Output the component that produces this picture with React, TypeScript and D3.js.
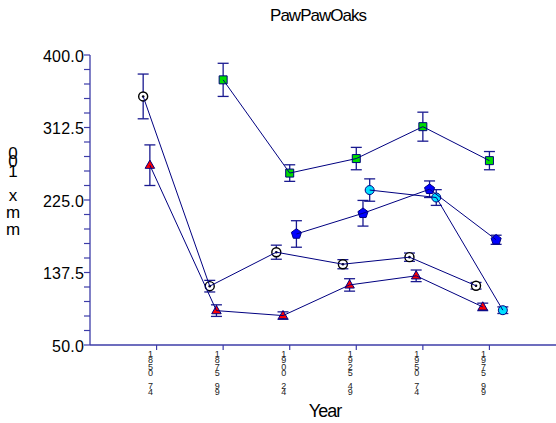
import React from "react";
import * as d3 from "d3";

// ---- data ----
const xLabels = ["1850.74", "1875.99", "1900.24", "1925.49", "1950.74", "1975.99"];
const yTicks = [50, 137.5, 225, 312.5, 400];

const meanA = [350, 121, 162, 147.5, 156, 121.5];
const errA = [27, 7, 8.5, 5.5, 5, 4];
const meanB = [267, 91.5, 85.5, 122.5, 133.5, 96];
const errB = [24.5, 7, 4.5, 7.5, 7, 4.5];
const meanC = [null, 370, 257.5, 275, 313.5, 272.5];
const errC = [null, 20, 10, 13.5, 17.5, 11];
const meanD = [null, null, 184, 209, 238, 177];
const errD = [null, null, 16, 15.5, 10, 5.5];
const meanE = [null, null, null, 237, 228, 92];
const errE = [null, null, null, 13.5, 9.5, 4];

const seriesMeans = [meanA, meanB, meanC, meanD, meanE];
const seriesErrs = [errA, errB, errC, errD, errE];
const markerKinds = ["ring", "triangle", "square", "pentagon", "circle"];
const markerFills = ["#ffffff", "#ff0000", "#00dd00", "#0000ff", "#00e0ff"];

const W = 556;
const H = 423;
const NAVY = "#000080";
const AXIS = "#3c3ca8";
const FONT = "'Liberation Sans', Arial, sans-serif";

function markerPath(kind: string, cx: number, cy: number): string {
  if (kind === "triangle") {
    const s = 9.5;
    const h = (s * Math.sqrt(3)) / 2;
    return `M${cx},${cy - h * 0.62}L${cx + s / 2},${cy + h * 0.38}L${cx - s / 2},${cy + h * 0.38}Z`;
  }
  if (kind === "square") {
    const s = 4;
    return `M${cx - s},${cy - s}H${cx + s}V${cy + s}H${cx - s}Z`;
  }
  if (kind === "pentagon") {
    const r = 5.3;
    const pts = d3.range(5).map((i) => {
      const a = -Math.PI / 2 + (i * 2 * Math.PI) / 5;
      return [cx + r * Math.cos(a), cy + r * Math.sin(a)];
    });
    return "M" + pts.map((p) => p.join(",")).join("L") + "Z";
  }
  const r = 4.5;
  return `M${cx - r},${cy}A${r},${r} 0 1,0 ${cx + r},${cy}A${r},${r} 0 1,0 ${cx - r},${cy}Z`;
}

export default function App() {
  const x = d3.scaleLinear().domain([-1, 6]).range([90, 556]);
  const y = d3.scaleLinear().domain([50, 400]).range([345, 55]);
  const dodge = 6.7;
  const minorTicks = d3.range(50, 400.001, 17.5);
  const lineGen = d3
    .line<[number, number]>()
    .x((d) => d[0])
    .y((d) => d[1]);

  const series = seriesMeans.map((means, si) => {
    const off = (si - 2) * dodge;
    const pts = means
      .map((m, i) =>
        m == null
          ? null
          : {
              px: x(i) + off,
              py: y(m),
              hi: y(m + (seriesErrs[si][i] as number)),
              lo: y(m - (seriesErrs[si][i] as number)),
            }
      )
      .filter((p) => p !== null) as { px: number; py: number; hi: number; lo: number }[];
    return { pts, kind: markerKinds[si], fill: markerFills[si] };
  });

  const yLabelChars = [
    { c: "0", y: 159 },
    { c: "0", y: 167 },
    { c: "1", y: 177 },
    { c: "x", y: 201 },
    { c: "m", y: 218 },
    { c: "m", y: 235 },
  ];

  return (
    <svg
      width={W}
      height={H}
      style={{ position: "absolute", left: 0, top: 0, background: "#fff" }}
      fontFamily={FONT}
    >
      {/* title */}
      <text x={318} y={21} textAnchor="middle" fontSize={17} letterSpacing={-1} fill="#000">
        PawPawOaks
      </text>

      {/* y axis */}
      <line x1={90} x2={90} y1={y(400)} y2={y(50)} stroke={AXIS} strokeWidth={1.3} />
      {minorTicks.map((t, i) => (
        <line key={"mt" + i} x1={84} x2={90} y1={y(t)} y2={y(t)} stroke={AXIS} strokeWidth={1.2} />
      ))}
      {yTicks.map((t) => (
        <text
          key={"yt" + t}
          x={84}
          y={y(t) + 1}
          dy="0.36em"
          textAnchor="end"
          fontSize={16}
          letterSpacing={0.2}
          fill="#000"
        >
          {d3.format(".1f")(t)}
        </text>
      ))}
      {yLabelChars.map((d, i) => (
        <text key={"yl" + i} x={13} y={d.y} textAnchor="middle" fontSize={17} fill="#000">
          {d.c}
        </text>
      ))}

      {/* x axis */}
      <line x1={90} x2={556} y1={345} y2={345} stroke={AXIS} strokeWidth={1.3} />
      {xLabels.map((lab, i) => (
        <g key={"xt" + i}>
          <line x1={x(i)} x2={x(i)} y1={345} y2={350} stroke={AXIS} strokeWidth={1.2} />
          {lab.split("").map((ch, k) => (
            <text
              key={k}
              x={x(i) - 6}
              y={357 + k * 6.3}
              textAnchor="middle"
              fontSize={9}
              fill="#222"
            >
              {ch === "." ? "" : ch}
            </text>
          ))}
        </g>
      ))}
      <text x={325} y={417} textAnchor="middle" fontSize={18} letterSpacing={-1} fill="#000">
        Year
      </text>

      {/* error bars */}
      {series.map((s, si) =>
        s.pts.map((p, i) => (
          <g key={"eb" + si + "-" + i} stroke="#1a1a90" strokeWidth={1.3}>
            <line x1={p.px} x2={p.px} y1={p.hi} y2={p.lo} />
            <line x1={p.px - 5.5} x2={p.px + 5.5} y1={p.hi} y2={p.hi} />
            <line x1={p.px - 5.5} x2={p.px + 5.5} y1={p.lo} y2={p.lo} />
          </g>
        ))
      )}

      {/* markers */}
      {series.map((s, si) =>
        s.pts.map((p, i) => (
          <g key={"mk" + si + "-" + i}>
            <path
              d={markerPath(s.kind, p.px, p.py)}
              fill={s.fill}
              stroke={s.kind === "ring" ? "#000" : NAVY}
              strokeWidth={s.kind === "ring" ? 1.4 : 1}
            />
            {s.kind === "ring" && <circle cx={p.px} cy={p.py} r={1.3} fill="#000" />}
          </g>
        ))
      )}

      {/* lines */}
      {series.map((s, si) => (
        <path
          key={"ln" + si}
          d={lineGen(s.pts.map((p) => [p.px, p.py] as [number, number])) || ""}
          fill="none"
          stroke={NAVY}
          strokeWidth={1}
        />
      ))}
    </svg>
  );
}
